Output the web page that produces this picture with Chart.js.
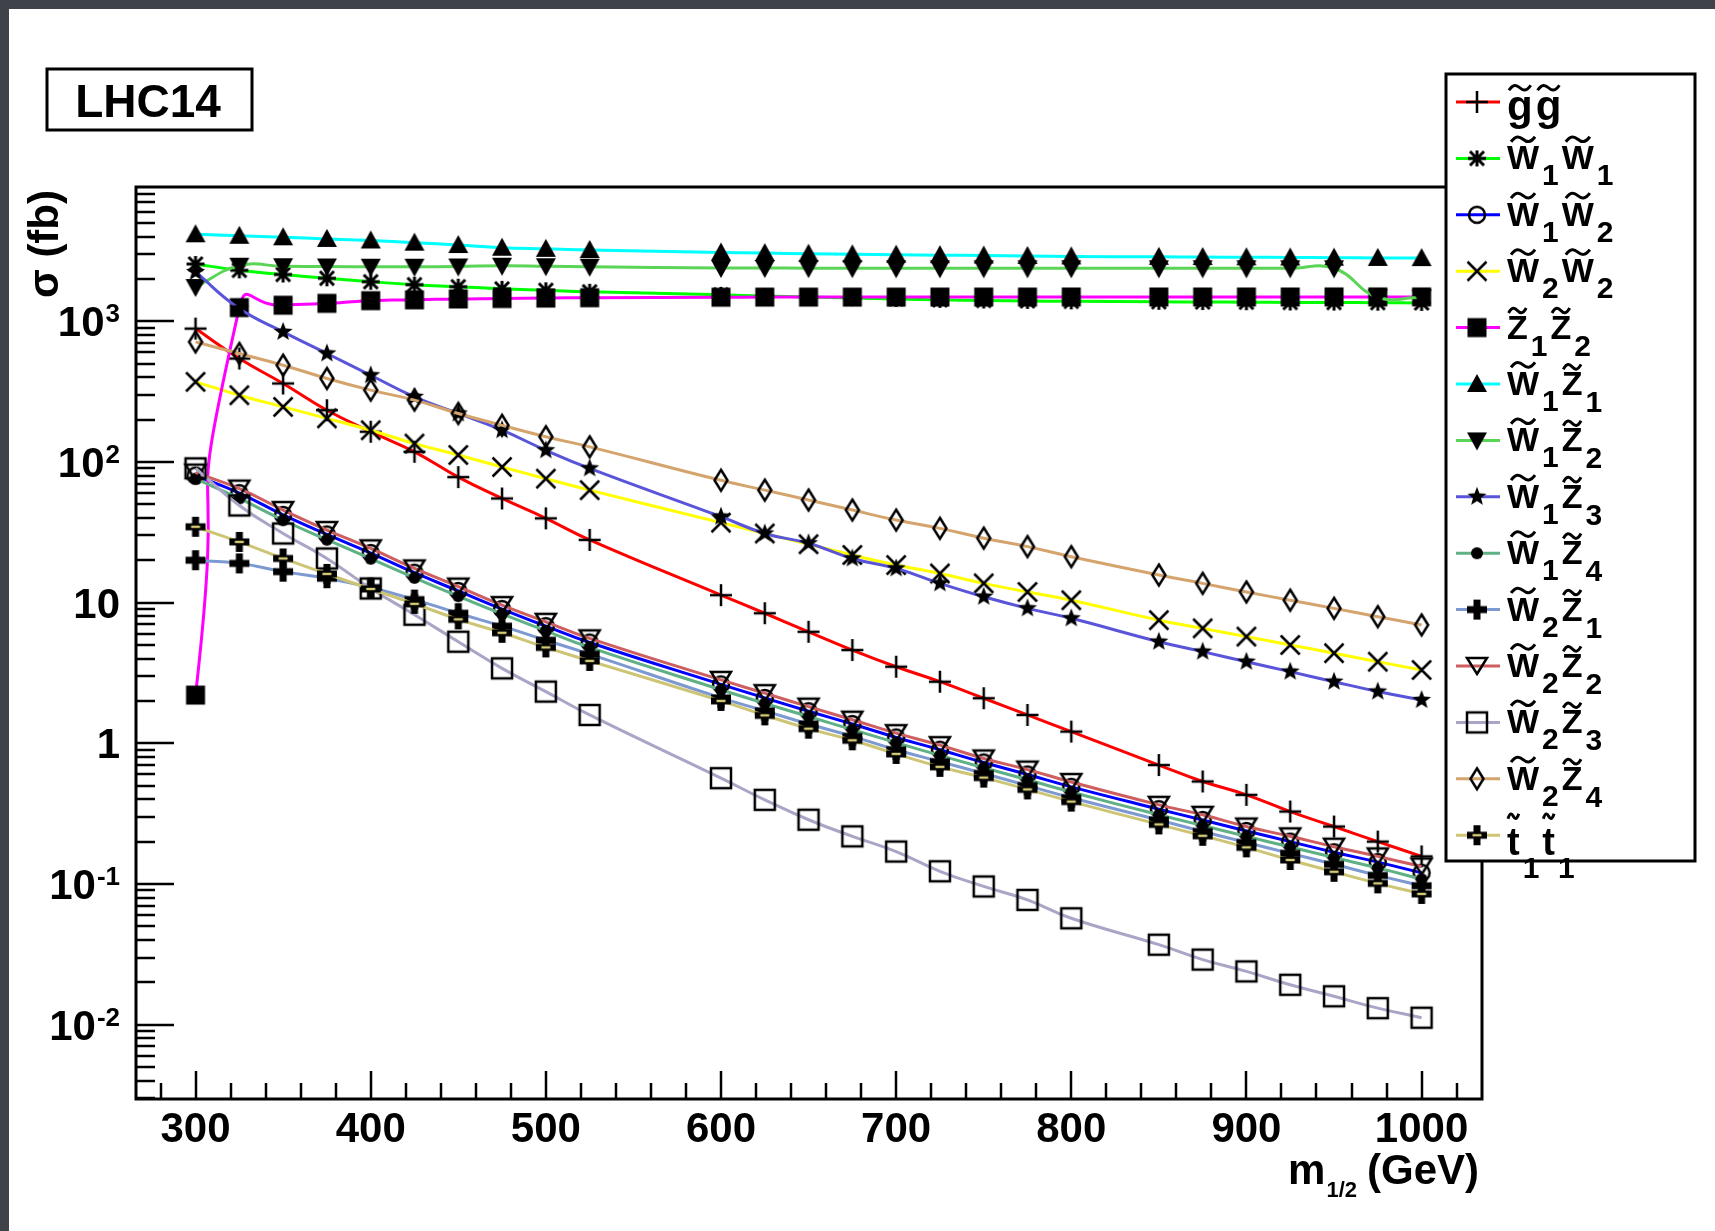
<!DOCTYPE html>
<html>
<head>
<meta charset="utf-8">
<title>LHC14 sparticle pair cross sections</title>
<script src="https://cdn.jsdelivr.net/npm/chart.js@4.4.1/dist/chart.umd.min.js"></script>
<style>
  html, body { margin: 0; padding: 0; background: #3f4248; }
  #chart { display: block; }
</style>
</head>
<body>
<canvas id="chart" width="1715" height="1231"></canvas>
<script>
// m_1/2 grid (GeV) -- no points at 550, 575, 825
const mHalf = [300, 325, 350, 375, 400, 425, 450, 475, 500, 525,
               600, 625, 650, 675, 700, 725, 750, 775, 800,
               850, 875, 900, 925, 950, 975, 1000];

// sigma (fb)
const sigGG   = [887, 543, 361, 233, 164, 118, 78, 55, 39.7, 27.9,
                 11.3, 8.4, 6.2, 4.6, 3.5, 2.74, 2.09, 1.59, 1.21,
                 0.70, 0.535, 0.43, 0.327, 0.256, 0.20, 0.157];
const sigW1W1 = [2550, 2300, 2150, 2020, 1910, 1820, 1760, 1700, 1660, 1620,
                 1540, 1510, 1485, 1460, 1440, 1420, 1405, 1395, 1385,
                 1375, 1370, 1365, 1360, 1358, 1355, 1350];
const sigW1W2 = [80, 60, 42, 30.5, 22.5, 16.3, 12.1, 9.0, 6.8, 5.2,
                 2.62, 2.1, 1.69, 1.37, 1.1, 0.9, 0.73, 0.6, 0.49,
                 0.34, 0.285, 0.238, 0.2, 0.168, 0.143, 0.12];
const sigW2W2 = [371, 298, 246, 204, 168, 135, 112, 92, 76, 63,
                 37, 31, 26, 21.8, 18.5, 16.1, 13.7, 11.9, 10.4,
                 7.5, 6.56, 5.73, 5.0, 4.37, 3.8, 3.32];
const sigZ1Z2 = [2.2, 1250, 1300, 1340, 1400, 1420, 1440, 1450, 1460, 1470,
                 1482, 1484, 1484, 1485, 1485, 1486, 1486, 1486, 1487,
                 1487, 1488, 1488, 1488, 1489, 1489, 1490];
const sigW1Z1 = [4150, 4050, 3950, 3850, 3750, 3620, 3480, 3330, 3270, 3210,
                 3080, 3050, 3020, 2990, 2970, 2950, 2930, 2910, 2890,
                 2870, 2860, 2850, 2840, 2830, 2820, 2810];
const sigW1Z2 = [1750, 2480, 2460, 2450, 2440, 2440, 2450, 2480, 2460, 2440,
                 2390, 2390, 2385, 2385, 2380, 2380, 2380, 2380, 2380,
                 2380, 2380, 2380, 2380, 2380, 1480, 1480];
const sigW1Z3 = [2240, 1230, 840, 590, 413, 290, 221, 168, 121, 90,
                 40.8, 31, 26.4, 20.6, 17.5, 13.7, 11.0, 9.1, 7.73,
                 5.27, 4.48, 3.8, 3.23, 2.74, 2.33, 2.03];
const sigW1Z4 = [76, 55, 38.5, 28, 20.5, 15, 11.1, 8.3, 6.3, 4.8,
                 2.4, 1.92, 1.55, 1.25, 1.01, 0.82, 0.67, 0.55, 0.45,
                 0.31, 0.26, 0.218, 0.183, 0.154, 0.13, 0.108];
const sigW2Z1 = [20, 19, 16.6, 14.9, 12.8, 10.5, 8.4, 6.8, 5.4, 4.3,
                 2.1, 1.7, 1.37, 1.12, 0.9, 0.74, 0.61, 0.5, 0.41,
                 0.285, 0.236, 0.197, 0.165, 0.138, 0.115, 0.097];
const sigW2Z2 = [84, 64.6, 45.5, 32.8, 24.3, 17.5, 13.0, 9.6, 7.3, 5.57,
                 2.82, 2.27, 1.82, 1.47, 1.18, 0.97, 0.78, 0.65, 0.53,
                 0.365, 0.31, 0.256, 0.218, 0.184, 0.157, 0.133];
const sigW2Z3 = [90, 49, 31, 20.6, 12.6, 8.2, 5.27, 3.41, 2.33, 1.59,
                 0.565, 0.396, 0.286, 0.218, 0.170, 0.123, 0.096, 0.077, 0.057,
                 0.037, 0.029, 0.0239, 0.0192, 0.0159, 0.0131, 0.0112];
const sigW2Z4 = [713, 590, 487, 392, 324, 275, 221, 182, 151, 128,
                 74, 63, 53.6, 45.5, 38.6, 33.7, 28.7, 25, 21.2,
                 15.7, 13.7, 11.9, 10.4, 9.1, 7.94, 6.93];
const sigStop = [34.6, 27, 20.6, 16, 12.5, 9.8, 7.6, 6.1, 4.8, 3.85,
                 2.0, 1.58, 1.27, 1.05, 0.84, 0.68, 0.57, 0.47, 0.385,
                 0.265, 0.22, 0.182, 0.148, 0.122, 0.101, 0.085];

// legend labels (tilde = combining U+0303, subscripts U+208x)
const seriesLabels = ['g\u0303g\u0303', 'W\u0303\u2081W\u0303\u2081', 'W\u0303\u2081W\u0303\u2082',
  'W\u0303\u2082W\u0303\u2082', 'Z\u0303\u2081Z\u0303\u2082', 'W\u0303\u2081Z\u0303\u2081',
  'W\u0303\u2081Z\u0303\u2082', 'W\u0303\u2081Z\u0303\u2083', 'W\u0303\u2081Z\u0303\u2084',
  'W\u0303\u2082Z\u0303\u2081', 'W\u0303\u2082Z\u0303\u2082', 'W\u0303\u2082Z\u0303\u2083',
  'W\u0303\u2082Z\u0303\u2084', 't\u0303\u2081t\u0303\u2081'];
const seriesValues = [sigGG, sigW1W1, sigW1W2, sigW2W2, sigZ1Z2, sigW1Z1, sigW1Z2,
  sigW1Z3, sigW1Z4, sigW2Z1, sigW2Z2, sigW2Z3, sigW2Z4, sigStop];

// axis ticks
const xTicks = [300, 400, 500, 600, 700, 800, 900, 1000];
const yDecades = [-2, -1, 0, 1, 2, 3];

// styles
const seriesColors = ['#ff0000', '#00ff00', '#0000ff', '#ffff00', '#ff00ff', '#00ffff', '#59d454',
  '#5954d9', '#5fb185', '#7d99d1', '#cf5e61', '#aaa5c6', '#d4a46c', '#cdc574'];
const seriesMarkers = ['plus', 'asterisk', 'circleOpen', 'cross', 'square', 'triUp', 'triDown',
  'star', 'dot', 'thickCross', 'triDownOpen', 'squareOpen', 'diamondOpen', 'thickCrossKhaki'];
// smoothing like ROOT's "C" option; the Z1Z2 curve overshoots after its jump
const seriesTension = [0.45, 0.45, 0.45, 0.45, 0.75, 0.45, 0.45, 0.45, 0.45, 0.45, 0.45, 0.45, 0.45, 0.45];

const FONT = '"Liberation Sans", Arial, Helvetica, sans-serif';

/**
 * Small offscreen canvas per marker, used as Chart.js pointStyle and in the legend
 */
function makeMarker(kind) {
  const c = document.createElement('canvas');
  c.width = 30; c.height = 30;
  const g = c.getContext('2d');
  g.translate(15, 15);
  g.strokeStyle = '#000';
  g.fillStyle = '#000';
  g.lineWidth = 2.5;
  g.beginPath();
  switch (kind) {
    case 'plus':
      g.moveTo(-11, 0); g.lineTo(11, 0); g.moveTo(0, -11); g.lineTo(0, 11); g.stroke();
      break;
    case 'asterisk':
      g.lineWidth = 3;
      g.moveTo(-9, 0); g.lineTo(9, 0);
      g.moveTo(-7, -7); g.lineTo(7, 7); g.moveTo(-7, 7); g.lineTo(7, -7);
      g.moveTo(0, -8); g.lineTo(0, 8);
      g.stroke();
      break;
    case 'circleOpen':
      g.arc(0, 0, 8, 0, Math.PI * 2); g.stroke();
      break;
    case 'cross':
      g.moveTo(-9.5, -9.5); g.lineTo(9.5, 9.5); g.moveTo(-9.5, 9.5); g.lineTo(9.5, -9.5); g.stroke();
      break;
    case 'square':
      g.fillRect(-9.5, -9.5, 19, 19);
      break;
    case 'triUp':
      g.moveTo(0, -10); g.lineTo(10, 8); g.lineTo(-10, 8); g.closePath(); g.fill();
      break;
    case 'triDown':
      g.moveTo(0, 10); g.lineTo(10, -8); g.lineTo(-10, -8); g.closePath(); g.fill();
      break;
    case 'star':
      for (let k = 0; k < 10; k++) {
        const r = k % 2 === 0 ? 10 : 4.2;
        const a = -Math.PI / 2 + k * Math.PI / 5;
        if (k === 0) g.moveTo(r * Math.cos(a), r * Math.sin(a));
        else g.lineTo(r * Math.cos(a), r * Math.sin(a));
      }
      g.closePath(); g.fill();
      break;
    case 'dot':
      g.arc(0, 0, 6, 0, Math.PI * 2); g.fill();
      break;
    case 'thickCross':
    case 'thickCrossKhaki': {
      const a = 3.5, L = 10;
      g.moveTo(-a, -L); g.lineTo(a, -L); g.lineTo(a, -a); g.lineTo(L, -a); g.lineTo(L, a);
      g.lineTo(a, a); g.lineTo(a, L); g.lineTo(-a, L); g.lineTo(-a, a); g.lineTo(-L, a);
      g.lineTo(-L, -a); g.lineTo(-a, -a); g.closePath();
      g.fill();
      if (kind === 'thickCrossKhaki') {
        // thin khaki core, as the stop markers show in the original
        g.fillStyle = '#d6cc78';
        g.fillRect(-4.5, -1.2, 9, 2.4);
      }
      break;
    }
    case 'triDownOpen':
      g.moveTo(0, 8); g.lineTo(10, -8); g.lineTo(-10, -8); g.closePath(); g.stroke();
      break;
    case 'squareOpen':
      g.strokeRect(-10, -10, 20, 20);
      break;
    case 'diamondOpen':
      g.moveTo(0, -10.5); g.lineTo(6.5, 0); g.lineTo(0, 10.5); g.lineTo(-6.5, 0); g.closePath(); g.stroke();
      break;
  }
  return c;
}

const markerImages = seriesMarkers.map(makeMarker);

function splitLabel(label) {
  const parts = [];
  for (const ch of label) {
    const code = ch.charCodeAt(0);
    if (ch === '\u0303') continue;
    if (code >= 0x2080 && code <= 0x2089) {
      parts[parts.length - 1].sub = String(code - 0x2080);
      continue;
    }
    parts.push({ ch: ch, sub: '' });
  }
  return parts;
}

function drawTilde(ctx, cx, y, w) {
  const x0 = cx - w / 2;
  ctx.beginPath();
  ctx.moveTo(x0, y + 2.5);
  ctx.bezierCurveTo(x0 + w * 0.2, y - 4, x0 + w * 0.35, y - 3, x0 + w * 0.5, y);
  ctx.bezierCurveTo(x0 + w * 0.65, y + 3, x0 + w * 0.8, y + 4, x0 + w, y - 2.5);
  ctx.stroke();
}

// per-letter text metrics for the legend (size, baseline offset, tilde gap, subscript drop)
const letterStyle = {
  W: { size: 34, base: 11, gap: 6, drop: 16 },
  Z: { size: 34, base: 11, gap: 4, drop: 17 },
  g: { size: 42, base: 18, gap: 10, drop: 16 },
  t: { size: 38, base: 20, gap: 12, drop: 23 }
};

function drawLegendText(ctx, label, x, yc) {
  ctx.save();
  ctx.fillStyle = '#000';
  ctx.strokeStyle = '#000';
  ctx.lineWidth = 3;
  ctx.textAlign = 'left';
  ctx.textBaseline = 'alphabetic';
  for (const p of splitLabel(label)) {
    const st = letterStyle[p.ch] || letterStyle.W;
    ctx.font = 'bold ' + st.size + 'px ' + FONT;
    const w = ctx.measureText(p.ch).width;
    const base = yc + st.base;
    ctx.fillText(p.ch, x, base);
    const top = p.ch === 'g' ? base - st.size * 0.53 : base - st.size * 0.71;
    drawTilde(ctx, x + w / 2, top - st.gap, Math.min(w * 0.85, 24));
    x += w;
    if (p.sub) {
      ctx.font = 'bold 30px ' + FONT;
      x += 3;
      ctx.fillText(p.sub, x, base + st.drop);
      x += ctx.measureText(p.sub).width;
    }
    x += 3;
  }
  ctx.restore();
}

const rootStyle = {
  id: 'rootStyle',
  beforeDraw(chart) {
    const ctx = chart.ctx;
    ctx.save();
    ctx.fillStyle = '#3f4248';
    ctx.fillRect(0, 0, chart.width, chart.height);
    ctx.fillStyle = '#ffffff';
    ctx.fillRect(9, 9, chart.width - 9, chart.height - 9);
    ctx.restore();
  },
  beforeDatasetsDraw(chart) {
    const ctx = chart.ctx;
    const a = chart.chartArea;
    const xs = chart.scales.x, ys = chart.scales.y;
    ctx.save();
    ctx.strokeStyle = '#000';
    ctx.lineWidth = 2.5;
    ctx.beginPath();
    // y ticks: decades long, 2..9 short, drawn inward
    for (let k = -3; k <= 3; k++) {
      for (let m = 1; m <= 9; m++) {
        const v = m * Math.pow(10, k);
        if (v <= ys.min || v >= ys.max) continue;
        const y = Math.round(ys.getPixelForValue(v));
        ctx.moveTo(a.left, y);
        ctx.lineTo(a.left + (m === 1 ? 38 : 19), y);
      }
    }
    // x ticks: 100 GeV long, every 20 GeV short
    for (let v = 280; v <= 1020; v += 20) {
      const x = Math.round(xs.getPixelForValue(v));
      ctx.moveTo(x, a.bottom);
      ctx.lineTo(x, a.bottom - (v % 100 === 0 ? 28 : 16));
    }
    ctx.stroke();
    ctx.lineWidth = 3;
    ctx.strokeRect(a.left, a.top, a.right - a.left, a.bottom - a.top);
    ctx.restore();
  },
  afterDraw(chart) {
    const ctx = chart.ctx;
    const a = chart.chartArea;
    const xs = chart.scales.x, ys = chart.scales.y;
    ctx.save();
    ctx.fillStyle = '#000';
    ctx.strokeStyle = '#000';

    // x tick labels
    ctx.font = 'bold 42px ' + FONT;
    ctx.textAlign = 'center';
    ctx.textBaseline = 'alphabetic';
    xTicks.forEach(v => ctx.fillText(String(v), xs.getPixelForValue(v), a.bottom + 43));

    // y tick labels 10^k
    const xr = a.left - 16;
    yDecades.forEach(k => {
      const y = ys.getPixelForValue(Math.pow(10, k));
      ctx.textAlign = 'right';
      if (k === 0 || k === 1) {
        ctx.font = 'bold 42px ' + FONT;
        ctx.fillText(k === 0 ? '1' : '10', xr, y + 15);
      } else {
        const ex = k < 0 ? '-' + (-k) : String(k);
        ctx.font = 'bold 26px ' + FONT;
        const ew = ctx.measureText(ex).width;
        ctx.fillText(ex, xr, y + 1);
        ctx.font = 'bold 42px ' + FONT;
        ctx.fillText('10', xr - ew - 1, y + 15);
      }
    });

    // x title: m_{1/2} (GeV)
    ctx.textAlign = 'right';
    ctx.font = 'bold 42px ' + FONT;
    const tx = a.right - 3;
    ctx.fillText('(GeV)', tx, 1184);
    const gw = ctx.measureText('(GeV)').width;
    ctx.font = 'bold 22px ' + FONT;
    const sx = tx - gw - 10;
    ctx.fillText('1/2', sx, 1197);
    const sw = ctx.measureText('1/2').width;
    ctx.font = 'bold 42px ' + FONT;
    ctx.fillText('m', sx - sw - 1, 1184);

    // y title
    ctx.save();
    ctx.translate(58, a.top + 3);
    ctx.rotate(-Math.PI / 2);
    ctx.textAlign = 'right';
    ctx.font = 'bold 42px ' + FONT;
    ctx.fillText('\u03c3 (fb)', 0, 0);
    ctx.restore();

    // LHC14 label box
    ctx.fillStyle = '#fff';
    ctx.fillRect(47, 69, 205, 61);
    ctx.lineWidth = 3;
    ctx.strokeRect(47, 69, 205, 61);
    ctx.fillStyle = '#000';
    ctx.textAlign = 'center';
    ctx.font = 'bold 46px ' + FONT;
    ctx.fillText('LHC14', 148, 117);

    // legend
    const L = { x: 1446, y: 74, w: 249, h: 787 };
    ctx.fillStyle = '#fff';
    ctx.fillRect(L.x, L.y, L.w, L.h);
    ctx.lineWidth = 3;
    ctx.strokeRect(L.x, L.y, L.w, L.h);
    chart.data.datasets.forEach((ds, i) => {
      const yc = 102 + i * 56.4;
      ctx.strokeStyle = ds.borderColor;
      ctx.lineWidth = 3;
      ctx.beginPath();
      ctx.moveTo(1456, yc);
      ctx.lineTo(1500, yc);
      ctx.stroke();
      const img = markerImages[i];
      ctx.drawImage(img, 1477 - img.width / 2, yc - img.height / 2);
      drawLegendText(ctx, ds.label, 1507, yc);
    });
    ctx.restore();
  }
};

const datasets = seriesValues.map((vals, i) => ({
  label: seriesLabels[i],
  data: mHalf.map((m, j) => ({ x: m, y: vals[j] })),
  borderColor: seriesColors[i],
  backgroundColor: seriesColors[i],
  borderWidth: 3,
  tension: seriesTension[i],
  fill: false,
  pointStyle: markerImages[i],
  pointRadius: 10,
  pointHoverRadius: 10,
  order: -i
}));

new Chart(document.getElementById('chart'), {
  type: 'line',
  data: { datasets: datasets },
  options: {
    responsive: false,
    devicePixelRatio: 1,
    animation: false,
    layout: { padding: { left: 136, top: 187, right: 233, bottom: 132 } },
    scales: {
      x: { type: 'linear', min: 266, max: 1034.5, display: false },
      y: { type: 'logarithmic', min: 0.00296, max: 9000, display: false }
    },
    plugins: {
      legend: { display: false },
      tooltip: { enabled: false }
    }
  },
  plugins: [rootStyle]
});
</script>
</body>
</html>
